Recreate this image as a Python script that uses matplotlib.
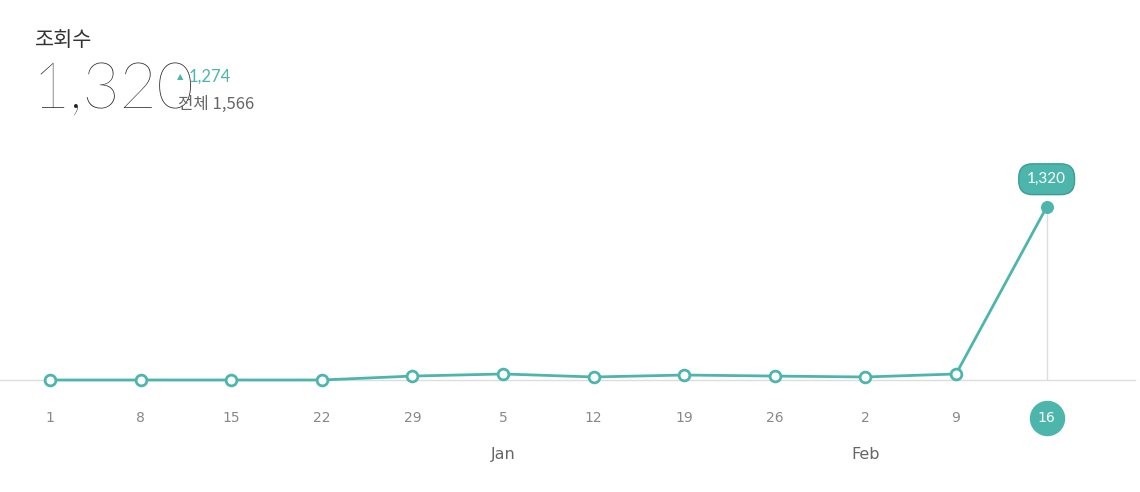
import matplotlib
matplotlib.use("Agg")
import matplotlib.pyplot as plt

plt.rcParams['font.family'] = ['Noto Sans CJK KR', 'DejaVu Sans']

days = ["1", "8", "15", "22", "29", "5", "12", "19", "26", "2", "9", "16"]
views = [0, 0, 0, 0, 30, 46, 23, 38, 30, 23, 46, 1320]
months = {"Jan": 5, "Feb": 9}
teal = "#4db6ac"
W, H = 1140, 492

fig = plt.figure(figsize=(W/100, H/100), dpi=100)
def fy(p): return 1 - p / H

ax = fig.add_axes([0, fy(380), 1135/W, (380-150)/H])
ax.set_xlim(-0.552, 11.975)
ax.set_ylim(0, 1755)
ax.axis('off')
x = list(range(len(views)))
ax.plot([-0.552, 11.975], [0, 0], color="#dddddd", lw=1, zorder=1, clip_on=False)
last = len(views) - 1
ax.plot([last, last], [0, views[-1]], color="#dddddd", lw=1, zorder=1)
ax.plot(x, views, color=teal, lw=2, zorder=2, clip_on=False)
ax.scatter(x[:-1], views[:-1], s=60, facecolor="white", edgecolor=teal, lw=2, zorder=3, clip_on=False)
ax.scatter([last], [views[-1]], s=70, color=teal, zorder=3, clip_on=False)

trans = ax.get_xaxis_transform()
for i, d in enumerate(days):
    if i == last:
        ax.scatter([i], [-0.165], s=600, color=teal, transform=trans, clip_on=False, zorder=3)
        ax.text(i, -0.165, d, transform=trans, ha='center', va='center', color='white', fontsize=10, family='DejaVu Sans', zorder=4)
    else:
        ax.text(i, -0.165, d, transform=trans, ha='center', va='center', color='#888888', fontsize=10, family='DejaVu Sans')
for m, i in months.items():
    ax.text(i, -0.325, m, transform=trans, ha='center', va='center', color='#666666', fontsize=11.5, family='DejaVu Sans')

ax.annotate(f"{views[-1]:,}", (last, views[-1]), xytext=(0, 20), textcoords='offset points',
            ha='center', va='center', color='white', fontsize=11, family=['Lato', 'DejaVu Sans'],
            bbox=dict(boxstyle='round,pad=0.55,rounding_size=0.9', fc=teal, ec='#3a9e95'))

fig.text(35/W, fy(40), "조회수", fontsize=15, color='#333333', va='center')
fig.text(32/W, fy(90), f"{views[-1]:,}", fontsize=46, color='#222222', va='center',
         family=['Lato', 'DejaVu Sans'], weight='light')
fig.text(177/W, fy(77), "▲", fontsize=6, color=teal, va='center', family=['DejaVu Sans'])
fig.text(189/W, fy(77), f"{views[-1]-views[-2]:,}", fontsize=12, color=teal, va='center',
         family=['Lato', 'DejaVu Sans'])
fig.text(178/W, fy(104), f"전체 {1566:,}", fontsize=12, color='#666666', va='center')

fig.savefig("out.png", dpi=100, facecolor='white')
